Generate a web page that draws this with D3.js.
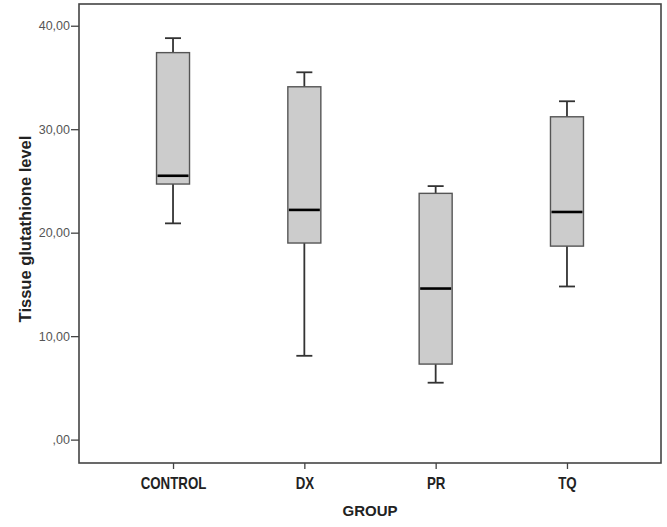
<!DOCTYPE html>
<html><head><meta charset="utf-8">
<script src="https://cdn.jsdelivr.net/npm/d3@7"></script>
<style>body{margin:0;background:#fff}</style>
</head><body>
<svg id="c" width="667" height="527"></svg>
<script>
const categories = ["CONTROL","DX","PR","TQ"];
const whiskerLow  = [20.9, 8.1, 5.5, 14.8];
const q1          = [24.7, 19.0, 7.3, 18.7];
const median      = [25.5, 22.2, 14.6, 22.0];
const q3          = [37.4, 34.1, 23.8, 31.2];
const whiskerHigh = [38.8, 35.5, 24.5, 32.7];
const yTicks = [0, 10, 20, 30, 40];

const svg = d3.select("#c");
const L = 79, R = 661, T = 4, B = 463;
const y = d3.scaleLinear().domain([-2.26, 42.1]).range([B, T]);
const x = d3.scalePoint().domain(categories).range([L, R]).padding(0.716);
const fmt = v => (v === 0 ? "" : String(v)) + ",00";
const FF = "'Liberation Sans', Arial, sans-serif";

// frame
svg.append("rect").attr("x", L).attr("y", T).attr("width", R - L).attr("height", B - T)
  .attr("fill", "none").attr("stroke", "#444").attr("stroke-width", 1.6);

// y axis
const ya = svg.append("g").attr("transform", `translate(${L},0)`)
  .call(d3.axisLeft(y).tickValues(yTicks).tickFormat(fmt).tickSize(8).tickPadding(1));
ya.select(".domain").remove();
ya.selectAll(".tick line").attr("stroke", "#444").attr("stroke-width", 1.3);
ya.selectAll(".tick text").attr("fill", "#555").attr("font-family", FF).attr("font-size", 12.5);

// x axis
const xa = svg.append("g").attr("transform", `translate(0,${B})`)
  .call(d3.axisBottom(x).tickSize(6).tickPadding(9));
xa.select(".domain").remove();
xa.selectAll(".tick line").attr("stroke", "#444").attr("stroke-width", 1.3);
xa.selectAll(".tick text").attr("fill", "#222")
  .attr("font-family", FF).attr("font-weight", "bold").attr("font-size", 16)
  .attr("transform", "scale(0.83,1)");

// boxes
const bw = 33, cw = 16;
const data = categories.map((c, i) => ({c, lo: whiskerLow[i], q1: q1[i], md: median[i], q3: q3[i], hi: whiskerHigh[i]}));
const g = svg.append("g").selectAll("g").data(data).join("g").attr("transform", d => `translate(${x(d.c)},0)`);
function line(sel, x1, y1, x2, y2) {
  sel.append("line").attr("x1", x1).attr("y1", y1).attr("x2", x2).attr("y2", y2)
    .attr("stroke", "#333").attr("stroke-width", 1.8);
}
g.each(function(d) {
  const s = d3.select(this);
  line(s, 0, y(d.hi), 0, y(d.q3));
  line(s, 0, y(d.q1), 0, y(d.lo));
  line(s, -cw/2, y(d.hi), cw/2, y(d.hi));
  line(s, -cw/2, y(d.lo), cw/2, y(d.lo));
  s.append("rect").attr("x", -bw/2).attr("width", bw).attr("y", y(d.q3)).attr("height", y(d.q1) - y(d.q3))
    .attr("fill", "#cccccc").attr("stroke", "#555").attr("stroke-width", 1.4);
  s.append("line").attr("x1", -bw/2 + 1).attr("x2", bw/2 - 1).attr("y1", y(d.md)).attr("y2", y(d.md))
    .attr("stroke", "#000").attr("stroke-width", 2.6);
});

// axis titles
svg.append("text").attr("x", (L + R) / 2).attr("y", 516).attr("text-anchor", "middle")
  .attr("font-family", FF).attr("font-weight", "bold").attr("font-size", 15)
  .attr("fill", "#222").text("GROUP");
svg.append("text").attr("transform", `translate(31,229) rotate(-90)`).attr("text-anchor", "middle")
  .attr("font-family", FF).attr("font-weight", "bold").attr("font-size", 16.5)
  .attr("fill", "#222").text("Tissue glutathione level");
</script>
</body></html>
